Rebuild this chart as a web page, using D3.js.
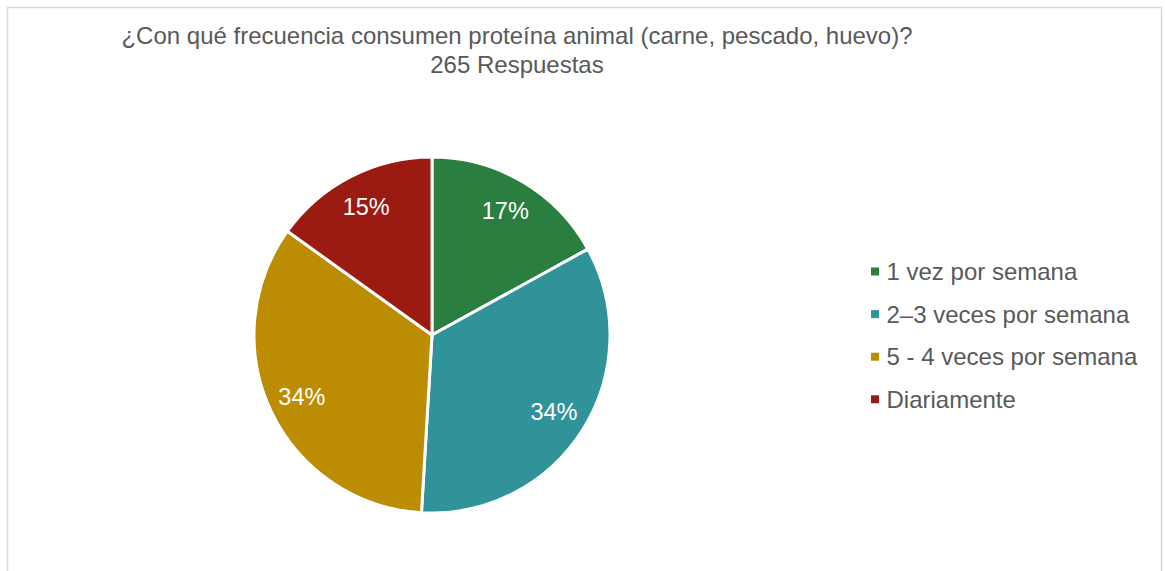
<!DOCTYPE html>
<html>
<head>
<meta charset="utf-8">
<script src="https://cdn.jsdelivr.net/npm/d3@7"></script>
<style>
  body { margin: 0; background: #fff; }
  text { font-family: "Liberation Sans", Arial, sans-serif; }
</style>
</head>
<body>
<div id="chart"></div>
<script>
// Data
// ================================
var categories = ["1 vez por semana", "2–3 veces por semana", "5 - 4 veces por semana", "Diariamente"];
var responses = [45, 90, 90, 40];
var colors = ["#2a7f40", "#31939a", "#bc8d03", "#9b1b12"];
var titleLines = ["¿Con qué frecuencia consumen proteína animal (carne, pescado, huevo)?", "265 Respuestas"];

var svgWidth = 1165;
var svgHeight = 571;

var svg = d3.select("#chart")
  .append("svg")
  .attr("width", svgWidth)
  .attr("height", svgHeight);

// chart frame
svg.append("rect")
  .attr("x", 7.5)
  .attr("y", 7.5)
  .attr("width", 1154)
  .attr("height", 600)
  .attr("fill", "none")
  .attr("stroke", "#d9d9d9")
  .attr("stroke-width", 1.5);

// title
svg.selectAll(".title")
  .data(titleLines)
  .enter()
  .append("text")
  .attr("class", "title")
  .attr("x", 517)
  .attr("y", (d, i) => 44 + i * 28.5)
  .attr("text-anchor", "middle")
  .attr("font-size", "24px")
  .attr("fill", "#595959")
  .text(d => d);

// pie
var cx = 432, cy = 335, radius = 178;

var pie = d3.pie().sort(null).value(d => d);
var arcs = pie(responses);
var total = d3.sum(responses);

var arc = d3.arc().innerRadius(0).outerRadius(radius);
var labelArc = d3.arc().innerRadius(radius * 0.81).outerRadius(radius * 0.81);

var pieGroup = svg.append("g")
  .attr("transform", `translate(${cx}, ${cy})`);

pieGroup.selectAll("path")
  .data(arcs)
  .enter()
  .append("path")
  .attr("d", arc)
  .attr("fill", (d, i) => colors[i])
  .attr("stroke", "#ffffff")
  .attr("stroke-width", 3);

pieGroup.selectAll(".pct")
  .data(arcs)
  .enter()
  .append("text")
  .attr("class", "pct")
  .attr("transform", d => `translate(${labelArc.centroid(d)})`)
  .attr("dy", "0.35em")
  .attr("text-anchor", "middle")
  .attr("font-size", "23.5px")
  .attr("fill", "#ffffff")
  .text(d => Math.round(d.data / total * 100) + "%");

// legend
var legend = svg.append("g")
  .attr("transform", "translate(871, 271.5)");

var rows = legend.selectAll(".row")
  .data(categories)
  .enter()
  .append("g")
  .attr("class", "row")
  .attr("transform", (d, i) => `translate(0, ${i * 42.6})`);

rows.append("rect")
  .attr("x", 0)
  .attr("y", -4)
  .attr("width", 8)
  .attr("height", 8)
  .attr("fill", (d, i) => colors[i]);

rows.append("text")
  .attr("x", 15.5)
  .attr("dy", "0.35em")
  .attr("font-size", "24px")
  .attr("fill", "#595959")
  .text(d => d);
</script>
</body>
</html>
